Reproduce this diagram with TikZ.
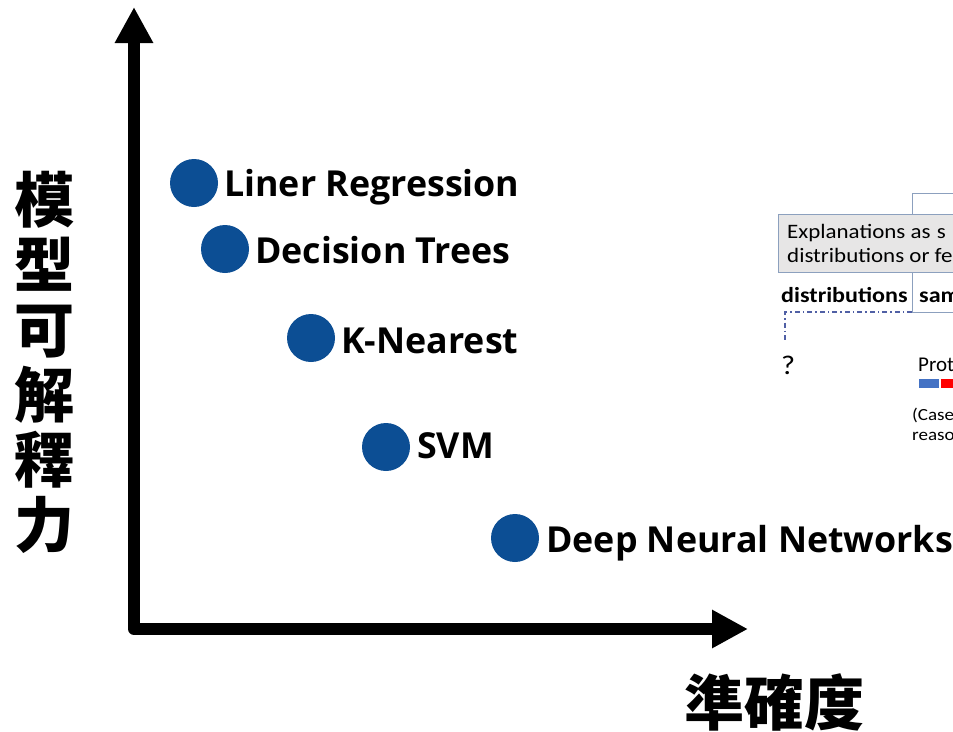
\documentclass[tikz,border=0pt]{standalone}
\usepackage{fontspec}
\setmainfont{Carlito}
\newfontfamily\cjk{Noto Sans CJK TC}
\newfontfamily\lab{Open Sans}
\usetikzlibrary{arrows.meta}
\definecolor{dotblue}{RGB}{12,78,148}
\definecolor{frameline}{RGB}{140,160,190}
\definecolor{boxgray}{RGB}{231,230,230}
\definecolor{dashblue}{RGB}{80,96,165}
\definecolor{barblue}{RGB}{68,114,196}
\newcommand{\wide}[1]{\scalebox{1.12}[1]{#1}}
\begin{document}
\begin{tikzpicture}[x=1pt,y=-1pt,
  dot/.style={circle,fill=dotblue,minimum size=48pt,inner sep=0pt},
  method/.style={anchor=base west,inner sep=0pt,font=\lab\bfseries\fontsize{35.8}{40}\selectfont},
  axisline/.style={line width=12pt,line join=round,
    {Triangle[length=36pt,width=36pt]}-{Triangle[length=36pt,width=36pt]}},
  axislabel/.style={inner sep=0pt,font=\cjk\bfseries\fontsize{60}{65}\selectfont},
  frag/.style={anchor=base west,inner sep=0pt},
  fragbox/.style={draw=frameline,line width=1pt}]
\useasboundingbox (0,0) rectangle (953,731);

% axes
\coordinate (ytip) at (134,7);
\coordinate (origin) at (134,629);
\coordinate (xtip) at (748,629);
\draw[axisline] (ytip) -- (origin) -- (xtip);

\node[axislabel,align=center] (ylab) at (44,362) {模\\型\\可\\解\\釋\\力};
\node[axislabel] (xlab) at (774,702) {準確度};

% models
\node[dot] (lr)  at (194,183) {};
\node[dot] (dt)  at (225,249) {};
\node[dot] (knn) at (311,338) {};
\node[dot] (svm) at (386,447) {};
\node[dot] (dnn) at (515,538) {};
\node[method] (lrt)  at (224,196) {Liner Regression};
\node[method] (dtt)  at (255,263) {Decision Trees};
\node[method] (knnt) at (341,353) {K-Nearest};
\node[method] (svmt) at (417,458) {SVM};
\node[method] (dnnt) at (546,552) {Deep Neural Networks};

% partial figure at the right edge
\begin{scope}
  \clip (770,180) rectangle (953,460);
  \draw[fragbox,fill=white] (912,193) rectangle (1000,312);
  \draw[fragbox,fill=boxgray] (778,214) rectangle (1000,272);
  \node[frag,font=\fontsize{20.5}{24}\selectfont] (e1) at (787,238) {\wide{Explanations as\hspace{1pt} s}};
  \node[frag,font=\fontsize{20.5}{24}\selectfont] (e2) at (787,262) {\wide{distributions or fe}};
  \node[frag,font=\bfseries\fontsize{21.5}{24}\selectfont] (d1) at (781,302) {\wide{distributions}};
  \node[frag,font=\bfseries\fontsize{21.5}{24}\selectfont] (s1) at (919,302) {\wide{sam}};
  \coordinate (dashA) at (912,312);
  \coordinate (dashB) at (785,312);
  \coordinate (dashC) at (785,340);
  \draw[dashblue,line width=1.3pt,dash pattern=on 5pt off 3pt on 1.5pt off 3pt] (dashA) -- (dashB) -- (dashC);
  \node[frag,font=\fontsize{27}{30}\selectfont] (q) at (781,374) {\wide{?}};
  \node[frag,font=\fontsize{21}{26}\selectfont] (p) at (918,371) {Prot};
  \fill[barblue] (919,379) rectangle (939,388);
  \fill[red] (941,379) rectangle (962,388);
  \node[frag,font=\fontsize{17}{20}\selectfont] (c1) at (912,420) {\wide{(Case}};
  \node[frag,font=\fontsize{17}{20}\selectfont] (c2) at (912,440) {\wide{reaso}};
\end{scope}
\end{tikzpicture}
\end{document}
